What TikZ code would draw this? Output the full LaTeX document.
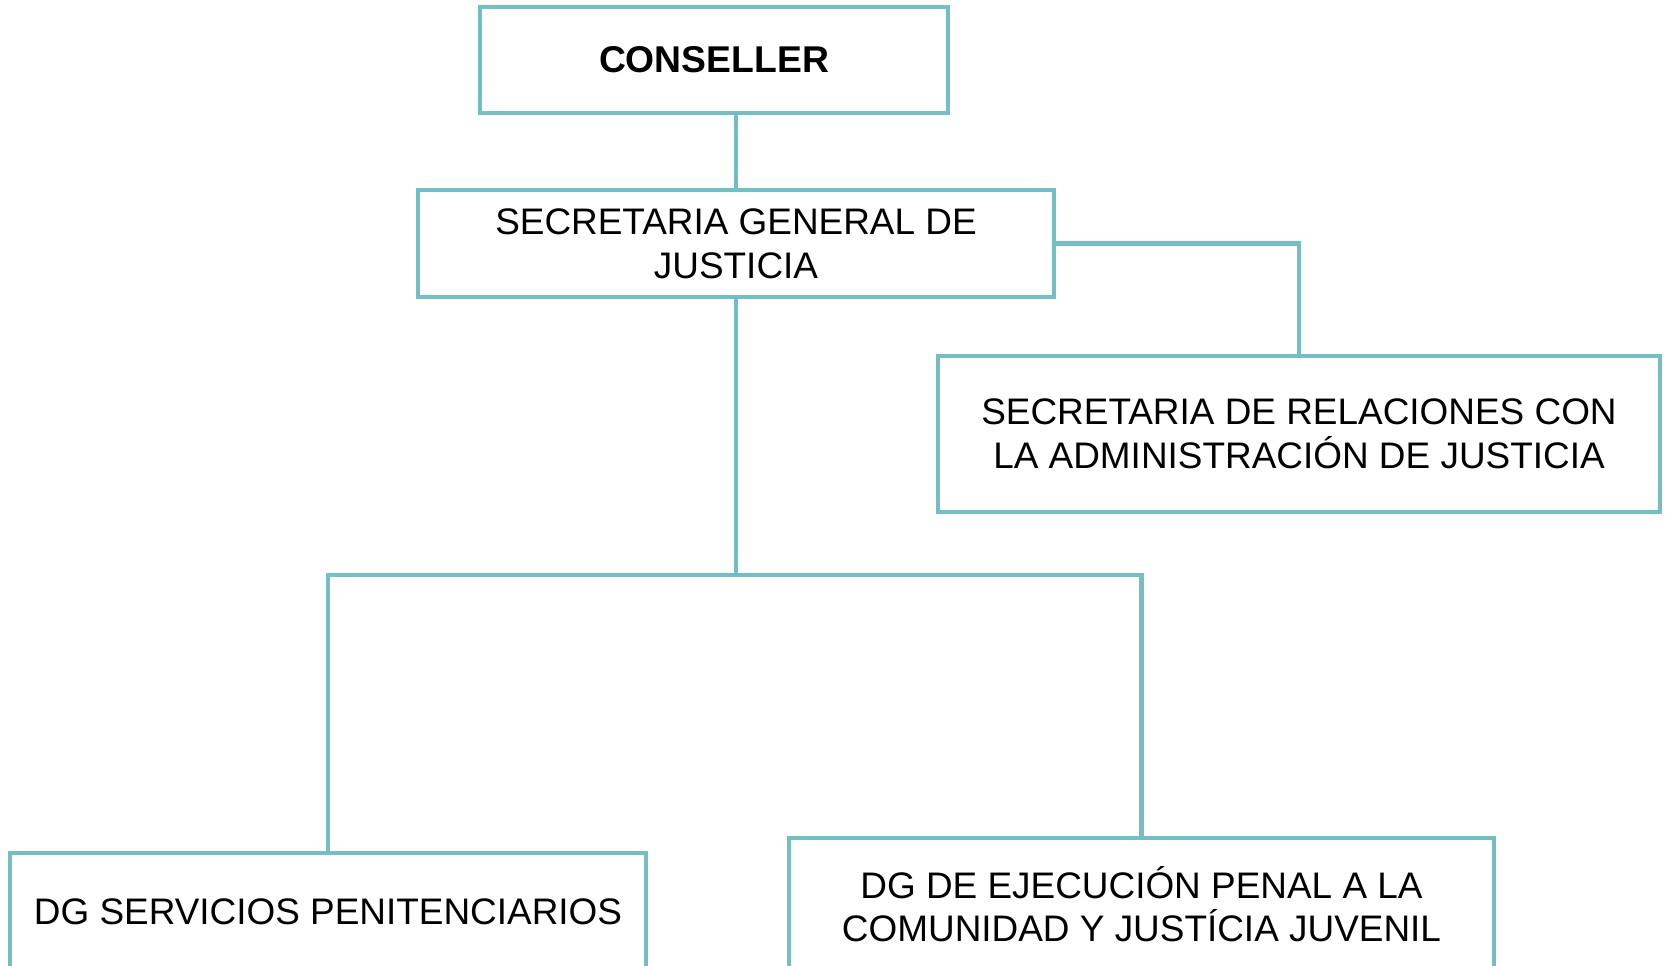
\documentclass[tikz,border=0pt]{standalone}
\usepackage{fontspec}
\setmainfont{Liberation Sans}
\definecolor{tealline}{RGB}{116,191,197}
\begin{document}
\begin{tikzpicture}[x=0.01cm,y=-0.01cm,
  box/.style={draw=tealline,line width=1.15pt,fill=white,align=center,inner sep=0pt,
    font=\fontsize{10.5}{12.4}\selectfont},
  link/.style={draw=tealline,line width=1.15pt}]
\useasboundingbox (0,0) rectangle (1668,966);
\node[box,minimum width=4.68cm,minimum height=1.05cm,font=\fontsize{10.6}{12.4}\selectfont\bfseries] (cons) at (714,60) {CONSELLER};
\node[box,minimum width=6.36cm,minimum height=1.07cm] (sgj) at (736,243.5) {SECRETARIA GENERAL DE\\JUSTICIA};
\node[box,minimum width=7.22cm,minimum height=1.56cm] (sraj) at (1299,434) {SECRETARIA DE RELACIONES CON\\LA ADMINISTRACIÓN DE JUSTICIA};
\node[box,minimum width=6.36cm,minimum height=1.18cm] (dgsp) at (328,912) {DG SERVICIOS PENITENCIARIOS};
\node[box,minimum width=7.05cm,minimum height=1.32cm] (dgep) at (1141.5,904) {DG DE EJECUCIÓN PENAL A LA\\COMUNIDAD Y JUSTÍCIA JUVENIL};
\coordinate (j) at (736,575);
\draw[link] (sgj.north) -- (sgj.north |- cons.south);
\draw[link] (sgj.east) -| (sraj.north);
\draw[link] (sgj.south) -- (j) -| (dgsp.north);
\draw[link] (j) -| (dgep.north);
\end{tikzpicture}
\end{document}
